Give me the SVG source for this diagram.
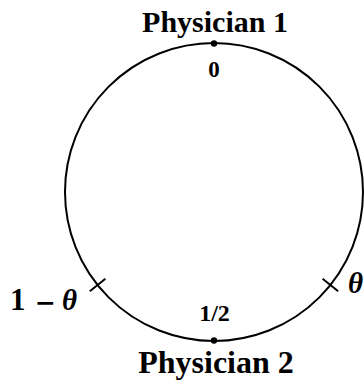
<svg xmlns="http://www.w3.org/2000/svg" width="364" height="380" viewBox="0 0 364 380">
<style>
.lbl{font-family:"Liberation Serif","Times New Roman",serif;font-weight:bold;fill:#000;text-anchor:middle}
.math{font-family:"Liberation Serif","Times New Roman",serif;font-weight:bold;fill:#000}
.ln{stroke:#000;stroke-width:2;fill:none}
</style>
<rect width="364" height="380" fill="#fff"/>
<g id="connectors">
<circle class="ln" cx="214" cy="192" r="149"/>
</g>
<g id="physician1">
<circle cx="214" cy="43.5" r="3.2" fill="#000"/>
<text class="lbl" x="215" y="31.5" font-size="30">Physician 1</text>
<text class="lbl" x="214" y="77" font-size="23">0</text>
</g>
<g id="physician2">
<circle cx="214" cy="340.5" r="3.2" fill="#000"/>
<text class="lbl" x="216" y="373" font-size="32">Physician 2</text>
<text class="lbl" x="214.5" y="321" font-size="24">1/2</text>
</g>
<g id="tick-left">
<line class="ln" x1="89.8" y1="291.2" x2="105.4" y2="278.8"/>
<text class="math" y="309.5" font-size="31"><tspan x="10">1</tspan><tspan x="35" y="311" font-family="'DejaVu Sans',sans-serif" font-size="25">−</tspan><tspan x="62" y="309.5" font-style="italic" font-size="29">θ</tspan></text>
</g>
<g id="tick-right">
<line class="ln" x1="338.2" y1="291.2" x2="322.6" y2="278.8"/>
<text class="math" x="348" y="293" font-size="29" font-style="italic">θ</text>
</g>
</svg>
